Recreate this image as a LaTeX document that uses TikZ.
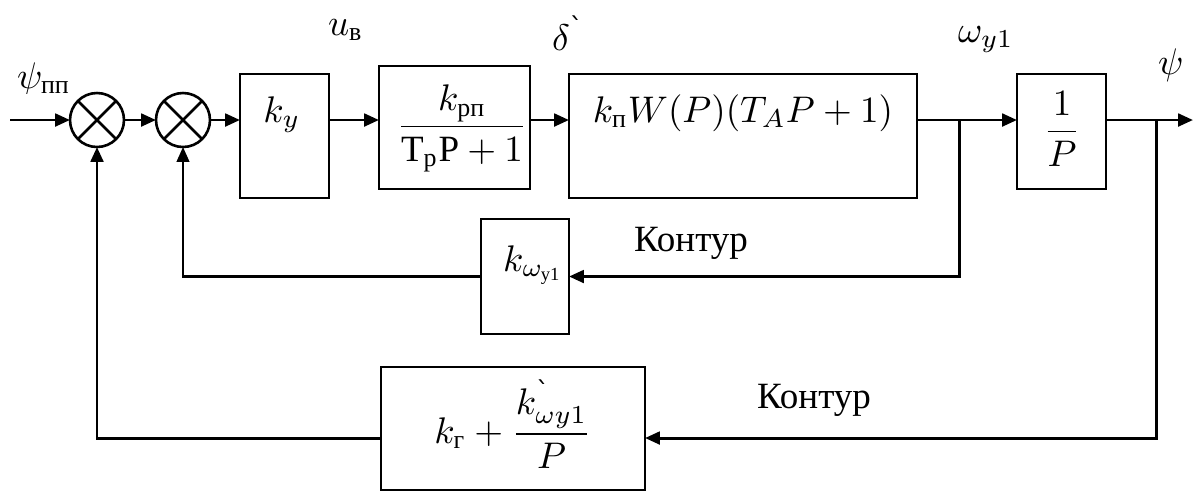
\documentclass[tikz,border=0pt]{standalone}
\usepackage{amsmath}
\usepackage{fontspec}
\setmainfont{Liberation Serif}
\newfontfamily\djv{DejaVu Sans}
\usetikzlibrary{arrows.meta}
\newcommand{\grv}{\textnormal{\djv ˋ}}
\begin{document}
\begin{tikzpicture}[x=0.27pt,y=-0.27pt,
  blk/.style 2 args={draw,line width=0.7pt,inner sep=0pt,outer sep=0pt,minimum width={#1*0.27pt},minimum height={#2*0.27pt}},
  sumj/.style={draw,circle,line width=0.7pt,inner sep=0pt,outer sep=0pt,minimum size={54*0.27pt}},
  lab/.style={inner sep=0pt,outer sep=0pt},
  arr/.style={line width=0.8pt,-{Triangle[length=4pt,width=3.4pt]}},
  ln/.style={line width=0.8pt},
  thinarr/.style={line width=0.55pt,-{Triangle[length=4pt,width=3.4pt]}}]
\useasboundingbox (0,0) rectangle (1201,501);
% summing junctions
\node[sumj] (s1) at (97,120) {};
\node[sumj] (s2) at (183,120) {};
\foreach \s in {s1,s2}{
  \draw[line width=0.7pt] (\s.north west) -- (\s.south east);
  \draw[line width=0.7pt] (\s.north east) -- (\s.south west);
}
% blocks
\node[blk={89}{124}] (ky) at (284.5,136) {};
\node[blk={151}{123}] (krp) at (454.5,127.5) {};
\node[blk={348}{124}] (big) at (743,136) {};
\node[blk={89}{115}] (inv) at (1061.5,131.5) {};
\node[blk={88}{115}] (kom) at (525,276.5) {};
\node[blk={264}{123}] (fb) at (513,428.5) {};
% block texts
\node[lab,anchor=base] (tky) at (282,122) {$k_y$};
\node[lab,anchor=base] (tkrp) at (462,136) {$\dfrac{k_{\textnormal{рп}}}{\textnormal{Т}_{\textnormal{р}}\textnormal{Р}+1}$};
\node[lab,anchor=base] (tbig) at (743,122) {$k_{\textnormal{п}}W(P)(T_AP+1)$};
\node[lab,anchor=base] (tinv) at (1062,141) {$\dfrac{1}{P}$};
\node[lab,anchor=base west] (tkom) at (503,271) {$k_{\omega_{\textnormal{у1}}}$};
\node[lab,anchor=base] (tfb) at (513,443) {$k_{\textnormal{г}}+\dfrac{k^{\grv}_{\omega y1}}{P}$};
% signal labels
\begin{scope}
\clip (0,0) rectangle (120,93);
\node[lab,anchor=base west] (lpsipp) at (17,88) {$\psi_{\textnormal{пп}}$};
\end{scope}
\node[lab,anchor=base west] (lu) at (328,35) {$u_{\textnormal{в}}$};
\node[lab,anchor=base west] (ld) at (552,50) {$\delta^{\grv}$};
\node[lab,anchor=base west] (lw) at (958,42) {$\omega_{y1}$};
\node[lab,anchor=base west] (lpsi) at (1158,74) {$\psi$};
\node[lab] (k1) at (691,243) {Контур};
\node[lab] (k2) at (814,400) {Контур};
% coordinates
\coordinate (m) at (0,120);
\coordinate (in) at (10,120);
\coordinate (b1) at (959,120);
\coordinate (b2) at (1156,120);
\coordinate (out) at (1193,120);
\coordinate (fbl) at (0,438);
% forward path
\draw[arr] (in) -- (s1.west);
\draw[arr] (s1.east) -- (s2.west);
\draw[arr] (s2.east) -- (ky.west |- m);
\draw[arr] (ky.east |- m) -- (krp.west |- m);
\draw[arr] (krp.east |- m) -- (big.west |- m);
\draw[arr] (big.east |- m) -- (inv.west |- m);
\draw[arr] (inv.east |- m) -- (out);
% feedback loops
\draw[arr] (b1) |- (kom.east);
\draw[thinarr] (kom.west) -| (s2.south);
\draw[arr] (b2) |- (fb.east |- fbl);
\draw[arr] (fb.west |- fbl) -| (s1.south);
\end{tikzpicture}
\end{document}
